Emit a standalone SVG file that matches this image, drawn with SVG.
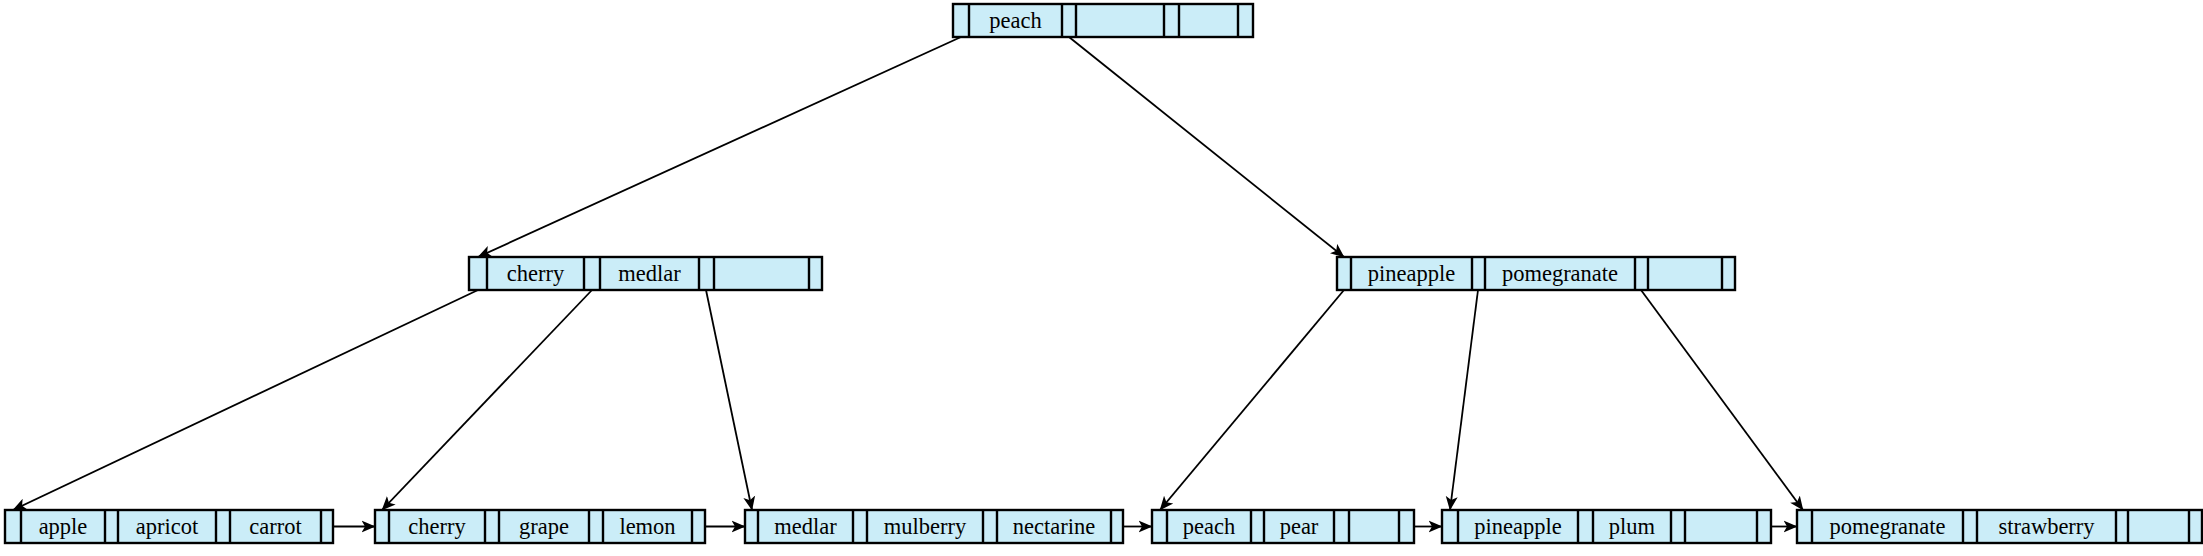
<svg xmlns="http://www.w3.org/2000/svg" width="2203" height="556" viewBox="0 0 2203 556">
<defs>
<marker id="ah" markerUnits="userSpaceOnUse" markerWidth="16" markerHeight="14" viewBox="0 -7 16 14" refX="13.5" refY="0" orient="auto">
<path d="M0,-6 L14,0 L0,6 L3.5,0 Z" fill="#000"/>
</marker>
</defs>
<style>
.box{fill:#CBEDF8;stroke:#000;stroke-width:2.4}
.div{stroke:#000;stroke-width:2.4}
.t{font-family:"Liberation Serif","Times New Roman",serif;font-size:22.5px;fill:#000;text-anchor:middle}
.c{stroke:#000;stroke-width:1.8;fill:none;marker-end:url(#ah)}
</style>
<rect width="2203" height="556" fill="#fff"/>

<g id="root">
<rect class="box" x="953" y="4" width="300" height="33"/>
<path class="div" d="M969,4V37M1062,4V37M1076,4V37M1164,4V37M1179,4V37M1238,4V37"/>
<text class="t" x="1015.5" y="28">peach</text>
</g>

<g id="mid-left">
<rect class="box" x="469" y="257" width="353" height="33"/>
<path class="div" d="M487,257V290M584,257V290M600,257V290M699,257V290M714,257V290M809,257V290"/>
<text class="t" x="535.5" y="281">cherry</text>
<text class="t" x="649.5" y="281">medlar</text>
</g>

<g id="mid-right">
<rect class="box" x="1337" y="257" width="398" height="33"/>
<path class="div" d="M1351,257V290M1472,257V290M1485,257V290M1635,257V290M1648,257V290M1722,257V290"/>
<text class="t" x="1411.5" y="281">pineapple</text>
<text class="t" x="1560" y="281">pomegranate</text>
</g>

<g id="leaf1">
<rect class="box" x="5" y="510" width="328" height="33"/>
<path class="div" d="M21,510V543M105,510V543M118,510V543M216,510V543M230,510V543M321,510V543"/>
<text class="t" x="63" y="534">apple</text>
<text class="t" x="167" y="534">apricot</text>
<text class="t" x="275.5" y="534">carrot</text>
</g>

<g id="leaf2">
<rect class="box" x="375" y="510" width="330" height="33"/>
<path class="div" d="M389,510V543M485,510V543M499,510V543M589,510V543M603,510V543M692,510V543"/>
<text class="t" x="437" y="534">cherry</text>
<text class="t" x="544" y="534">grape</text>
<text class="t" x="647.5" y="534">lemon</text>
</g>

<g id="leaf3">
<rect class="box" x="745" y="510" width="378" height="33"/>
<path class="div" d="M758,510V543M853,510V543M867,510V543M983,510V543M997,510V543M1111,510V543"/>
<text class="t" x="805.5" y="534">medlar</text>
<text class="t" x="925" y="534">mulberry</text>
<text class="t" x="1054" y="534">nectarine</text>
</g>

<g id="leaf4">
<rect class="box" x="1152" y="510" width="262" height="33"/>
<path class="div" d="M1167,510V543M1251,510V543M1264,510V543M1334,510V543M1349,510V543M1399,510V543"/>
<text class="t" x="1209" y="534">peach</text>
<text class="t" x="1299" y="534">pear</text>
</g>

<g id="leaf5">
<rect class="box" x="1442" y="510" width="329" height="33"/>
<path class="div" d="M1458,510V543M1578,510V543M1593,510V543M1671,510V543M1685,510V543M1757,510V543"/>
<text class="t" x="1518" y="534">pineapple</text>
<text class="t" x="1632" y="534">plum</text>
</g>

<g id="leaf6">
<rect class="box" x="1797" y="510" width="405" height="33"/>
<path class="div" d="M1812,510V543M1963,510V543M1977,510V543M2116,510V543M2128,510V543M2189,510V543"/>
<text class="t" x="1887.5" y="534">pomegranate</text>
<text class="t" x="2046.5" y="534">strawberry</text>
</g>

<g id="connectors">
<line class="c" x1="961" y1="37" x2="478" y2="257"/>
<line class="c" x1="1069" y1="37" x2="1344" y2="257"/>
<line class="c" x1="478" y1="290" x2="13" y2="510"/>
<line class="c" x1="592" y1="290" x2="382" y2="510"/>
<line class="c" x1="706" y1="290" x2="752" y2="510"/>
<line class="c" x1="1344" y1="290" x2="1160" y2="510"/>
<line class="c" x1="1478" y1="290" x2="1450" y2="510"/>
<line class="c" x1="1641" y1="290" x2="1803" y2="510"/>
<line class="c" x1="333" y1="526.5" x2="375" y2="526.5"/>
<line class="c" x1="705" y1="526.5" x2="745" y2="526.5"/>
<line class="c" x1="1123" y1="526.5" x2="1152" y2="526.5"/>
<line class="c" x1="1414" y1="526.5" x2="1442" y2="526.5"/>
<line class="c" x1="1771" y1="526.5" x2="1797" y2="526.5"/>
</g>
</svg>
